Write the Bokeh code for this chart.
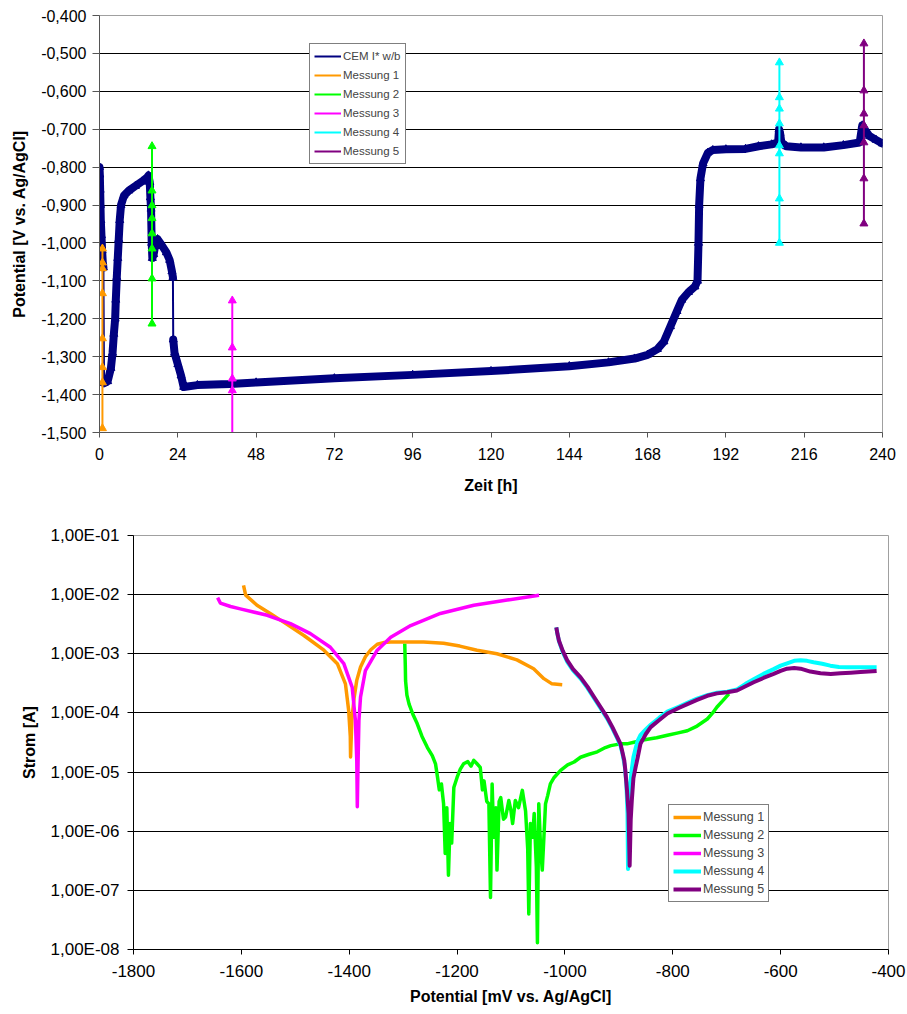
from bokeh.embed import file_html
from bokeh.models import (CustomJSTickFormatter, FixedTicker, Legend,
                          LegendItem, Range1d)
from bokeh.plotting import figure
from bokeh.resources import INLINE

# ---------------------------------------------------------------------------
# Open-circuit potential over time
# ---------------------------------------------------------------------------
ocp_time = [0.0, 0.1, 0.2, 0.3, 0.4, 0.6, 0.8, 1.0, 1.2, 1.4, 2.5, 3.5, 4.0,
            4.4, 4.8, 5.0, 5.3, 5.6, 5.9, 6.2, 6.6, 7.5, 9.0, 11.0, 13.0,
            14.5, 15.0, 15.4, 15.6, 15.8, 16.0, 16.2, 16.6, 17.2, 17.8,
            19.0, 20.5, 21.5, 22.2, 22.5, 22.6, 23.0, 24.0, 25.0, 25.8,
            30.0, 40.0, 48.0, 72.0, 96.0, 120.0, 144.0, 156.0, 164.0, 168.0,
            171.0, 173.0, 175.0, 177.0, 178.5, 180.5, 182.5, 183.3, 183.6,
            183.8, 184.2, 185.0, 186.5, 188.0, 192.0, 198.0, 202.0, 206.0,
            208.0, 208.3, 208.6, 209.0, 210.5, 215.0, 222.0, 228.0, 233.0,
            233.8, 234.5, 236.0, 238.0, 240.0]
ocp_potential = [-0.800, -0.820, -0.860, -0.900, -0.940, -0.980, -1.020,
                 -1.050, -1.065, -1.370, -1.365, -1.330, -1.290, -1.240,
                 -1.200, -1.150, -1.090, -1.040, -0.990, -0.940, -0.900,
                 -0.875, -0.862, -0.850, -0.838, -0.828, -0.822, -0.840,
                 -0.880, -0.910, -1.000, -1.040, -1.030, -1.000, -0.990,
                 -1.005, -1.025, -1.045, -1.075, -1.090, -1.255, -1.290,
                 -1.320, -1.350, -1.380, -1.375, -1.372, -1.368, -1.357,
                 -1.348, -1.338, -1.325, -1.315, -1.305, -1.295, -1.280,
                 -1.260, -1.220, -1.180, -1.150, -1.130, -1.115, -1.100,
                 -1.000, -0.900, -0.830, -0.790, -0.762, -0.755, -0.753,
                 -0.752, -0.745, -0.740, -0.735, -0.700, -0.710, -0.735,
                 -0.745, -0.748, -0.748, -0.742, -0.735, -0.690, -0.700,
                 -0.718, -0.728, -0.738]
# times after which the potential jumps (recorded points are far apart)
ocp_jumps_after = [1.2, 22.5]

# potential readings taken at each polarisation measurement
m1_time = 0.9
m1_potential = [-1.015, -1.052, -1.067, -1.133, -1.252, -1.328, -1.368, -1.489]
m2_time = 16.1
m2_potential = [-0.745, -0.862, -0.901, -0.935, -0.975, -1.015, -1.094, -1.213]
m3_time = 40.7
m3_potential = [-1.152, -1.276, -1.358, -1.389, -1.560]
m4_time = 208.4
m4_potential = [-0.524, -0.616, -0.646, -0.685, -0.743, -0.764, -0.883, -1.000]
m5_time = 234.3
m5_potential = [-0.474, -0.598, -0.659, -0.690, -0.735, -0.830, -0.949]

time_ticks = [0, 24, 48, 72, 96, 120, 144, 168, 192, 216, 240]
potential_ticks = [-1.5, -1.4, -1.3, -1.2, -1.1, -1.0, -0.9, -0.8, -0.7,
                   -0.6, -0.5, -0.4]

# ---------------------------------------------------------------------------
# Polarisation curves: current vs potential
# ---------------------------------------------------------------------------
pc1_mv = [-1596, -1592, -1571, -1545, -1521, -1484, -1447, -1422, -1407,
          -1401, -1398, -1397.5, -1395, -1391, -1386, -1379, -1370, -1360,
          -1348, -1335, -1323, -1295, -1262, -1225, -1195, -1163, -1126,
          -1089, -1058, -1039, -1024, -1005]
pc1_amp = [1.43e-2, 9.8e-3, 6.6e-3, 4.7e-3, 3.4e-3, 2.04e-3, 1.15e-3, 6.8e-4,
           3.1e-4, 1.1e-4, 4.0e-5, 1.8e-5, 7.9e-5, 1.78e-4, 3.55e-4, 6.0e-4,
           8.9e-4, 1.17e-3, 1.45e-3, 1.55e-3, 1.58e-3, 1.58e-3, 1.58e-3,
           1.51e-3, 1.35e-3, 1.15e-3, 1.0e-3, 7.9e-4, 5.6e-4, 3.8e-4, 3.1e-4,
           3.0e-4]

pc2_mv = [-1297, -1296, -1295.5, -1293, -1289, -1282, -1274, -1265, -1255,
          -1246, -1240, -1236, -1233, -1229, -1225, -1222, -1219, -1216,
          -1213, -1210, -1206, -1200, -1194, -1188, -1180, -1174, -1169,
          -1163, -1157, -1153, -1150, -1145, -1141, -1138, -1135, -1132,
          -1128, -1126, -1122, -1119, -1114, -1110, -1104, -1100, -1097,
          -1092, -1086, -1079, -1073, -1069, -1067, -1064, -1060, -1057,
          -1053, -1051, -1048.5, -1045, -1042, -1039, -1036, -1032, -1027,
          -1020, -1008, -995, -983, -971, -955, -940, -925, -915, -897,
          -885, -872, -860, -847, -830, -810, -790, -773, -755, -736, -726,
          -718, -708, -696]
pc2_amp = [1.48e-3, 6.3e-4, 3.5e-4, 2.0e-4, 1.41e-4, 9.5e-5, 6.6e-5, 4.0e-5,
           2.6e-5, 1.9e-5, 1.38e-5, 7.9e-6, 5.0e-6, 6.3e-6, 2.9e-6, 4.2e-7,
           2.5e-6, 1.8e-7, 1.35e-6, 6.3e-7, 5.5e-6, 8.1e-6, 1.12e-5,
           1.38e-5, 1.5e-5, 1.26e-5, 1.58e-5, 1.38e-5, 1.2e-5, 5.0e-6,
           7.1e-6, 3.2e-6, 2.9e-6, 7.6e-8, 6.3e-6, 7.9e-7, 2.5e-6, 2.2e-7,
           3.2e-6, 3.7e-6, 1.6e-6, 1.74e-6, 3.3e-6, 2.2e-6, 1.35e-6, 3.3e-6,
           2.5e-6, 4.9e-6, 2.2e-6, 5.0e-7, 4.0e-8, 1.35e-6, 7.9e-7, 2.0e-6,
           2.5e-7, 1.3e-8, 2.9e-6, 5.0e-7, 2.2e-7, 7.9e-7, 2.9e-6, 4.0e-6,
           6.3e-6, 8.1e-6, 1.07e-5, 1.32e-5, 1.48e-5, 1.78e-5, 2.0e-5,
           2.2e-5, 2.6e-5, 2.8e-5, 3.0e-5, 3.0e-5, 3.2e-5, 3.4e-5, 3.6e-5,
           3.8e-5, 4.2e-5, 4.6e-5, 5.0e-5, 6.0e-5, 7.9e-5, 1.0e-4, 1.26e-4,
           1.58e-4, 2.1e-4]

pc3_mv = [-1644, -1639, -1620, -1602, -1552, -1509, -1472, -1435, -1410,
          -1394.5, -1388.5, -1386, -1385, -1383.5, -1382, -1379, -1370,
          -1348, -1323, -1286, -1231, -1169, -1107, -1048]
pc3_amp = [8.9e-3, 7.2e-3, 6.3e-3, 5.75e-3, 4.47e-3, 3.24e-3, 2.19e-3,
           1.29e-3, 6.8e-4, 2.7e-4, 7.4e-5, 1.6e-5, 2.6e-6, 1.6e-5, 7.4e-5,
           1.86e-4, 5.2e-4, 1.15e-3, 1.9e-3, 3.0e-3, 4.8e-3, 6.6e-3, 8.1e-3,
           9.8e-3]

pc4_mv = [-1016, -1014, -1011, -1004, -996, -985, -971, -958, -946, -934,
          -922, -912, -903, -897, -893, -889, -886, -884, -883, -881, -879,
          -876, -873, -869, -865, -860, -850, -841, -825, -810, -790, -773,
          -755, -736, -718, -699, -681, -665, -650, -632, -613, -600, -588,
          -575, -563, -551, -539, -523, -508, -492, -477, -450, -422]
pc4_amp = [2.8e-3, 2.2e-3, 1.62e-3, 1.07e-3, 7.4e-4, 5.25e-4, 3.8e-4,
           2.63e-4, 1.78e-4, 1.2e-4, 8.1e-5, 5.5e-5, 3.7e-5, 2.8e-5, 2.0e-5,
           1.26e-5, 6.3e-6, 2.0e-6, 2.3e-7, 2.5e-6, 6.3e-6, 1.12e-5, 1.78e-5,
           2.5e-5, 3.4e-5, 4.2e-5, 5.25e-5, 6.3e-5, 8.3e-5, 1.05e-4, 1.26e-4,
           1.48e-4, 1.74e-4, 2.0e-4, 2.19e-4, 2.29e-4, 2.5e-4, 3.1e-4, 3.7e-4,
           4.57e-4, 5.5e-4, 6.3e-4, 6.9e-4, 7.6e-4, 7.8e-4, 7.6e-4, 7.2e-4,
           6.8e-4, 6.3e-4, 6.0e-4, 5.9e-4, 5.9e-4, 5.9e-4]

pc5_mv = [-1016, -1014, -1011, -1004, -996, -985, -971, -958, -946, -934,
          -922, -912, -903, -897, -894, -890, -888, -885, -882, -880, -878,
          -876, -873, -869, -865, -860, -850, -841, -825, -810, -790, -773,
          -755, -736, -718, -699, -681, -665, -650, -632, -613, -600, -588,
          -575, -563, -545, -526, -507, -489, -470, -452, -437, -422]
pc5_amp = [2.8e-3, 2.2e-3, 1.66e-3, 1.12e-3, 7.8e-4, 5.5e-4, 4.0e-4,
           2.75e-4, 1.86e-4, 1.26e-4, 8.5e-5, 5.75e-5, 3.9e-5, 3.0e-5,
           2.3e-5, 1.58e-5, 1.07e-5, 5.0e-6, 2.0e-6, 2.6e-7, 1.58e-6, 3.3e-6,
           7.9e-6, 1.2e-5, 1.78e-5, 3.0e-5, 4.4e-5, 5.75e-5, 7.6e-5, 9.8e-5,
           1.2e-4, 1.41e-4, 1.66e-4, 1.95e-4, 2.14e-4, 2.24e-4, 2.4e-4,
           2.82e-4, 3.3e-4, 3.9e-4, 4.57e-4, 5.13e-4, 5.6e-4, 5.75e-4, 5.6e-4,
           5.0e-4, 4.7e-4, 4.57e-4, 4.7e-4, 4.8e-4, 4.9e-4, 5.0e-4, 5.13e-4]

mv_ticks = [-1800, -1600, -1400, -1200, -1000, -800, -600, -400]
amp_ticks = [1e-8, 1e-7, 1e-6, 1e-5, 1e-4, 1e-3, 1e-2, 1e-1]

labels = ["Messung 1", "Messung 2", "Messung 3", "Messung 4", "Messung 5"]
colors = ["#FF9900", "#00FF00", "#FF00FF", "#00FFFF", "#800080"]
NAVY = "#000080"
FONT = "Liberation Sans"


def style_axes(p, axis_color, tick_size):
    for ax in (p.xaxis[0], p.yaxis[0]):
        ax.axis_line_color = axis_color
        ax.major_tick_line_color = axis_color
        ax.minor_tick_line_color = None
        ax.major_tick_in = 0
        ax.major_label_text_font = FONT
        ax.major_label_text_font_size = tick_size
        ax.major_label_text_color = "black"
        ax.axis_label_text_font = FONT
        ax.axis_label_text_font_size = "16px"
        ax.axis_label_text_font_style = "bold"
        ax.axis_label_text_color = "black"
    p.xgrid.visible = False
    p.ygrid.grid_line_color = "black"
    p.ygrid.grid_line_width = 1
    p.outline_line_color = "#A0A0A0"
    p.background_fill_color = "white"
    p.border_fill_color = "white"


# ---------------------------- top chart -----------------------------------
p1 = figure(frame_width=783, frame_height=417, output_backend="svg",
            toolbar_location=None,
            x_range=Range1d(0, 240), y_range=Range1d(-1.5, -0.4),
            min_border_left=99, min_border_right=25, min_border_top=15,
            min_border_bottom=68)
style_axes(p1, "#555555", "16px")
p1.xaxis.ticker = FixedTicker(ticks=time_ticks)
p1.xaxis.formatter = CustomJSTickFormatter(code="return tick.toFixed(0);")
p1.yaxis.ticker = FixedTicker(ticks=potential_ticks)
p1.yaxis.formatter = CustomJSTickFormatter(
    code="return tick.toFixed(3).replace('.', ',');")
p1.xaxis.axis_label = "Zeit [h]"
p1.yaxis.axis_label = "Potential [V vs. Ag/AgCl]"
p1.xaxis.major_tick_out = 5
p1.yaxis.major_tick_out = 7
p1.xaxis.major_label_standoff = 10
p1.yaxis.major_label_standoff = 6
p1.xaxis.axis_label_standoff = 14
p1.yaxis.axis_label_standoff = 10

# thick band for the densely recorded stretches, thin line across the jumps
band_t, band_v = [], []
for t, v in zip(ocp_time, ocp_potential):
    band_t.append(t)
    band_v.append(v)
    if t in ocp_jumps_after:
        band_t.append(float("nan"))
        band_v.append(float("nan"))

ocp_line = p1.line(ocp_time, ocp_potential, line_color=NAVY, line_width=2)
p1.line(band_t, band_v, line_color=NAVY, line_width=8, line_join="round",
        line_cap="round")
p1.scatter(ocp_time, ocp_potential, marker="triangle", size=8,
           fill_color=NAVY, line_color=NAVY)

legend1_items = [LegendItem(label="CEM I* w/b", renderers=[ocp_line])]
for lab, col, t, vals in zip(labels, colors,
                             [m1_time, m2_time, m3_time, m4_time, m5_time],
                             [m1_potential, m2_potential, m3_potential,
                              m4_potential, m5_potential]):
    xs = [t] * len(vals)
    r = p1.line(xs, vals, line_color=col, line_width=2)
    p1.scatter(xs, vals, marker="triangle", size=8, fill_color=col,
               line_color=col)
    legend1_items.append(LegendItem(label=lab, renderers=[r]))

leg1 = Legend(items=legend1_items, location=(210, 268), margin=0, padding=4,
              spacing=3, label_height=16, glyph_height=16, glyph_width=27,
              label_standoff=2, label_text_font=FONT,
              label_text_font_size="11.5px", border_line_color="black",
              border_line_width=1, background_fill_alpha=1)
p1.add_layout(leg1)

# ---------------------------- bottom chart --------------------------------
p2 = figure(frame_width=755, frame_height=414, output_backend="svg",
            toolbar_location=None,
            x_range=Range1d(-1800, -400), y_range=Range1d(1e-8, 1e-1),
            y_axis_type="log", min_border_left=133, min_border_right=19,
            min_border_top=35, min_border_bottom=62)
style_axes(p2, "black", "17px")
p2.xaxis.ticker = FixedTicker(ticks=mv_ticks)
p2.xaxis.formatter = CustomJSTickFormatter(code="return tick.toFixed(0);")
p2.yaxis.ticker = FixedTicker(ticks=amp_ticks)
p2.yaxis.formatter = CustomJSTickFormatter(code="""
    const e = Math.round(Math.log10(tick));
    const s = e < 0 ? '-' : '+';
    return '1,00E' + s + String(Math.abs(e)).padStart(2, '0');
""")
p2.xaxis.axis_label = "Potential [mV vs. Ag/AgCl]"
p2.yaxis.axis_label = "Strom [A]"
p2.xaxis.major_tick_out = 5
p2.yaxis.major_tick_out = 6
p2.xaxis.major_label_standoff = 10
p2.yaxis.major_label_standoff = 8
p2.xaxis.axis_label_standoff = 8
p2.yaxis.axis_label_standoff = 10

legend2_items = []
widths = [3.5, 3.5, 3.5, 4, 4]
for lab, col, w, xs, ys in zip(labels, colors, widths,
                               [pc1_mv, pc2_mv, pc3_mv, pc4_mv, pc5_mv],
                               [pc1_amp, pc2_amp, pc3_amp, pc4_amp, pc5_amp]):
    r = p2.line(xs, ys, line_color=col, line_width=w, line_join="round")
    legend2_items.append(LegendItem(label=lab, renderers=[r]))

leg2 = Legend(items=legend2_items, location=(535, 47), margin=0, padding=4,
              spacing=2, label_height=16, glyph_height=16, glyph_width=28,
              label_standoff=2, label_text_font=FONT,
              label_text_font_size="12.5px", border_line_color="black",
              border_line_width=1, background_fill_alpha=1)
p2.add_layout(leg2)

# two independent roots stacked on the page, each with its own borders
open("out.html", "w").write(file_html([p1, p2], INLINE))
